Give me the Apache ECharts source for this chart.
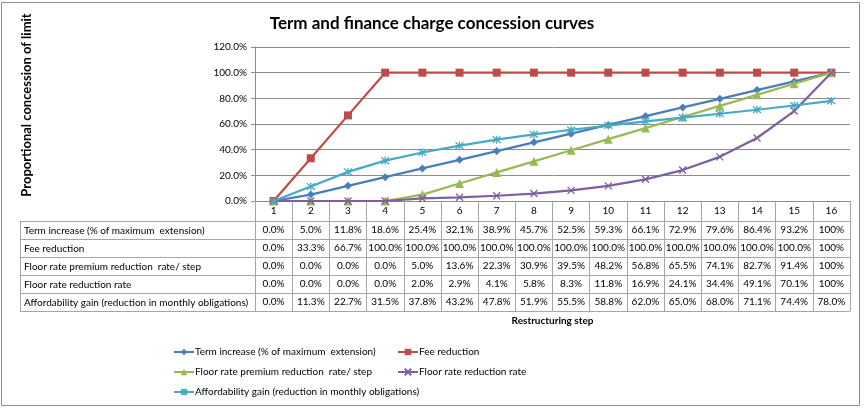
<!DOCTYPE html>
<html><head><meta charset="utf-8">
<script src="https://cdn.jsdelivr.net/npm/echarts@6/dist/echarts.min.js"></script>
<style>html,body{margin:0;padding:0;background:#fff}#c{width:864px;height:408px}</style>
</head><body><div id="c"></div>
<script>
const categories = ['1','2','3','4','5','6','7','8','9','10','11','12','13','14','15','16'];
const seriesNames = [
  'Term increase (% of maximum  extension)',
  'Fee reduction',
  'Floor rate premium reduction  rate/ step',
  'Floor rate reduction rate',
  'Affordability gain (reduction in monthly obligations)'
];
const termIncrease = [0.0,5.0,11.8,18.6,25.4,32.1,38.9,45.7,52.5,59.3,66.1,72.9,79.6,86.4,93.2,100];
const feeReduction = [0.0,33.3,66.7,100,100,100,100,100,100,100,100,100,100,100,100,100];
const floorPremium = [0.0,0.0,0.0,0.0,5.0,13.6,22.3,30.9,39.5,48.2,56.8,65.5,74.1,82.7,91.4,100];
const floorRate = [0.0,0.0,0.0,0.0,2.0,2.9,4.1,5.8,8.3,11.8,16.9,24.1,34.4,49.1,70.1,100];
const affordability = [0.0,11.3,22.7,31.5,37.8,43.2,47.8,51.9,55.5,58.8,62.0,65.0,68.0,71.1,74.4,78.0];
const yTicks = [0,20,40,60,80,100,120];

const allRows = [termIncrease, feeReduction, floorPremium, floorRate, affordability];
const colors = ['#4A7EBB','#BE4B48','#98B954','#7D60A0','#46AAC5'];
const symbols = ['diamond','rect','triangle','path://M0,0L10,10M10,0L0,10','path://M0,0L10,10M10,0L0,10M5,-1L5,11'];
const symSizes = [8,8,9,7,8];

const FONT = 'Lato';
const G = {left:255, right:14, top:47, bottom:207};
const plotBottom = 408 - G.bottom;
const headH = 20, rowH = 18;
const tableLeft = 20;
const gridColor = '#8C8C8C';
const tableColor = '#A6A6A6';

function fmt(v, idx){ return (idx === categories.length-1 && v === 100) ? '100%' : v.toFixed(1) + '%'; }

const xAxes = [{
  type:'category', data:categories, gridIndex:0, position:'bottom', boundaryGap:true,
  axisLine:{show:true, lineStyle:{color:gridColor, width:1}},
  axisTick:{show:true, interval:0, length: headH + rowH*allRows.length, lineStyle:{color:tableColor}},
  axisLabel:{fontFamily:FONT, fontSize:10, color:'#000', margin:5, interval:0}
}];
allRows.forEach((row, k) => {
  xAxes.push({
    type:'category', data:categories, gridIndex:0, position:'bottom', offset: headH + k*rowH,
    axisLine:{show:true, lineStyle:{color:tableColor}},
    axisTick:{show:false},
    axisLabel:{fontFamily:FONT, fontSize:10, color:'#000', margin:4, interval:0,
      formatter:(v, idx) => fmt(row[idx], idx)}
  });
});
xAxes.push({
  type:'category', data:categories, gridIndex:0, position:'bottom', offset: headH + rowH*allRows.length,
  axisLine:{show:true, lineStyle:{color:tableColor}}, axisTick:{show:false}, axisLabel:{show:false}
});

const series = allRows.map((row, i) => ({
  name: seriesNames[i], type:'line', xAxisIndex:0, yAxisIndex:0, data: row,
  symbol: symbols[i], symbolSize: symSizes[i],
  lineStyle:{color:colors[i], width:2.2},
  itemStyle:{color:colors[i], borderColor:colors[i], borderWidth: i>=3 ? 1.3 : 0},
  emphasis:{disabled:true}, animation:false, z: 2+i
}));

const graphics = [
  {type:'rect', shape:{x:1.5, y:2.5, width:858, height:403}, style:{fill:'none', stroke:'#8C8C8C', lineWidth:1}, silent:true},
  {type:'text', x:27, y:105, rotation:Math.PI/2, style:{text:'Proportional concession of limit', fontFamily:FONT, fontSize:13, fontWeight:'bold', fill:'#000', textAlign:'center', textVerticalAlign:'middle'}},
  {type:'text', x:(G.left + 864 - G.right)/2, y:321, style:{text:'Restructuring step', fontFamily:FONT, fontSize:10, fontWeight:'bold', fill:'#000', textAlign:'center', textVerticalAlign:'middle'}},
  {type:'line', shape:{x1:tableLeft+0.5, y1:plotBottom+headH, x2:tableLeft+0.5, y2:plotBottom+headH+rowH*allRows.length}, style:{stroke:tableColor, lineWidth:1}}
];
for (let k=0; k<=allRows.length; k++){
  const y = plotBottom + headH + k*rowH + 0.5;
  graphics.push({type:'line', shape:{x1:tableLeft, y1:y, x2:G.left, y2:y}, style:{stroke:tableColor, lineWidth:1}});
}
seriesNames.forEach((n, k) => {
  graphics.push({type:'text', x:tableLeft+4, y: plotBottom + headH + k*rowH + rowH/2 + 0.5,
    style:{text:n, fontFamily:FONT, fontSize:10, fill:'#000', textAlign:'left', textVerticalAlign:'middle'}});
});

const legendCommon = {orient:'vertical', itemWidth:20, itemHeight:8, itemGap:10, padding:0,
  textStyle:{fontFamily:FONT, fontSize:10, color:'#000', padding:[0,0,0,-4]}, selectedMode:false};

const option = {
  animation:false,
  title:{text:'Term and finance charge concession curves', left:'center', top:10,
    textStyle:{fontFamily:FONT, fontSize:17, fontWeight:'bold', color:'#000'}},
  grid:G,
  xAxis:xAxes,
  yAxis:{type:'value', min:0, max:120, interval:20,
    axisLine:{show:true, lineStyle:{color:gridColor}},
    axisTick:{show:true, length:4, lineStyle:{color:gridColor}},
    splitLine:{show:true, lineStyle:{color:gridColor, width:1}},
    axisLabel:{fontFamily:FONT, fontSize:10, color:'#000', margin:8, formatter:v => v.toFixed(1)+'%'}},
  legend:[
    Object.assign({left:173, top:347, data:[seriesNames[0], seriesNames[2], seriesNames[4]]}, legendCommon),
    Object.assign({left:397, top:347, data:[seriesNames[1], seriesNames[3]]}, legendCommon)
  ],
  series:series,
  graphic:graphics
};
const chart = echarts.init(document.getElementById('c'), null, {renderer:'canvas'});
chart.setOption(option);
</script></body></html>
